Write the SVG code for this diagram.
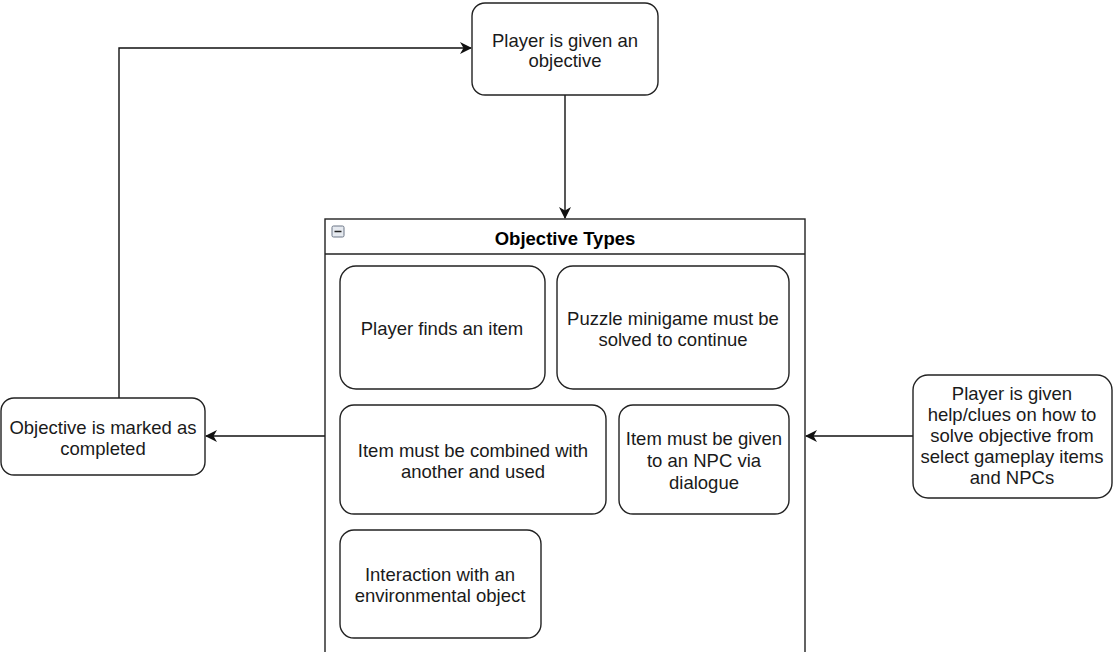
<svg xmlns="http://www.w3.org/2000/svg" width="1113" height="652" viewBox="0 0 1113 652">
  <defs>
    <style>
      .box { fill: #ffffff; stroke: #222222; stroke-width: 1.4; }
      .lbl { font-family: "Liberation Sans", Arial, sans-serif; font-size: 18.5px; fill: #1a1a1a; text-anchor: middle; }
      .title { font-family: "Liberation Sans", Arial, sans-serif; font-size: 18.5px; font-weight: bold; fill: #000000; text-anchor: middle; }
      .edge { fill: none; stroke: #111111; stroke-width: 1.4; }
    </style>
    <marker id="arrow" viewBox="0 0 12 12" refX="11" refY="6" markerWidth="12" markerHeight="12" markerUnits="userSpaceOnUse" orient="auto">
      <path d="M0,0 L12,6 L0,12 L3.5,6 Z" fill="#111111"/>
    </marker>
  </defs>
  <rect width="1113" height="652" fill="#ffffff"/>

  <!-- connectors -->
  <g id="connectors">
    <path class="edge" d="M565,95 V218" marker-end="url(#arrow)"/>
    <path class="edge" d="M325,436 H206" marker-end="url(#arrow)"/>
    <path class="edge" d="M119,398 V48 H471" marker-end="url(#arrow)"/>
    <path class="edge" d="M913,436 H806" marker-end="url(#arrow)"/>
  </g>

  <g id="node-start">
    <rect class="box" x="472" y="3" width="186" height="92" rx="13"/>
    <text class="lbl" x="565" y="47">Player is given an</text>
    <text class="lbl" x="565" y="67">objective</text>
  </g>

  <g id="node-completed">
    <rect class="box" x="1" y="398" width="204" height="77" rx="13"/>
    <text class="lbl" x="103" y="434">Objective is marked as</text>
    <text class="lbl" x="103" y="455">completed</text>
  </g>

  <g id="node-help">
    <rect class="box" x="913" y="375" width="199" height="123" rx="15"/>
    <text class="lbl" x="1012" y="400">Player is given</text>
    <text class="lbl" x="1012" y="421">help/clues on how to</text>
    <text class="lbl" x="1012" y="442">solve objective from</text>
    <text class="lbl" x="1012" y="463">select gameplay items</text>
    <text class="lbl" x="1012" y="484">and NPCs</text>
  </g>

  <g id="container-objective-types">
    <rect class="box" x="325" y="219" width="480" height="440"/>
    <line x1="325" y1="254" x2="805" y2="254" stroke="#222222" stroke-width="1.4"/>
    <rect x="332" y="226" width="12" height="11" rx="1.5" fill="#e6eaf0" stroke="#6b7585" stroke-width="1"/>
    <line x1="334.5" y1="231.5" x2="341.5" y2="231.5" stroke="#222222" stroke-width="1.5"/>
    <text class="title" x="565" y="245">Objective Types</text>
  </g>

  <g id="node-find-item">
    <rect class="box" x="340" y="266" width="205" height="123" rx="16"/>
    <text class="lbl" x="442" y="335">Player finds an item</text>
  </g>

  <g id="node-puzzle">
    <rect class="box" x="557" y="266" width="232" height="123" rx="16"/>
    <text class="lbl" x="673" y="325">Puzzle minigame must be</text>
    <text class="lbl" x="673" y="346">solved to continue</text>
  </g>

  <g id="node-combine">
    <rect class="box" x="340" y="405" width="266" height="109" rx="14"/>
    <text class="lbl" x="473" y="457">Item must be combined with</text>
    <text class="lbl" x="473" y="478">another and used</text>
  </g>

  <g id="node-give-npc">
    <rect class="box" x="619" y="405" width="170" height="109" rx="14"/>
    <text class="lbl" x="704" y="445">Item must be given</text>
    <text class="lbl" x="704" y="467">to an NPC via</text>
    <text class="lbl" x="704" y="489">dialogue</text>
  </g>

  <g id="node-environment">
    <rect class="box" x="340" y="530" width="201" height="108" rx="14"/>
    <text class="lbl" x="440" y="581">Interaction with an</text>
    <text class="lbl" x="440" y="602">environmental object</text>
  </g>
</svg>
